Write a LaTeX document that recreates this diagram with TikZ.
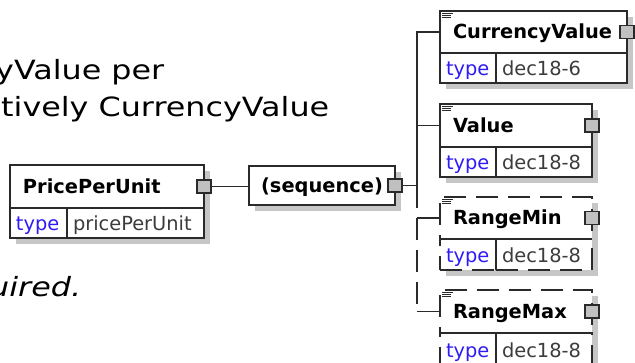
\documentclass[tikz,border=0pt]{standalone}
\usepackage{fontspec}
\setmainfont{DejaVu Sans}
\newfontfamily\notefont[FakeStretch=1.2]{DejaVu Sans}
\usetikzlibrary{positioning,shadows}
\definecolor{edge}{HTML}{2A2A2A}
\definecolor{typeblue}{HTML}{2F1BF5}
\definecolor{valgray}{HTML}{3C3C3C}
\definecolor{shade}{HTML}{C6C6C6}
\definecolor{plusfill}{HTML}{C0C0C0}

% documentation mark in the top left corner of an element
\newcommand{\docmark}[1]{%
  \draw[edge, line width=0.8pt]
    ([shift={(2pt,-2.3pt)}]#1.north west) -- ++(11pt,0)
    ([shift={(2pt,-4.3pt)}]#1.north west) -- ++(9pt,0)
    ([shift={(2pt,-6.3pt)}]#1.north west) -- ++(9pt,0);}

\begin{document}
\begin{tikzpicture}[x=1pt, y=-1pt,
    boxshadow/.style={drop shadow={shadow xshift=6pt, shadow yshift=-6pt, fill=shade, opacity=1}},
    hdr/.style={draw=edge, fill=white, line width=1.4pt, anchor=north west, outer sep=0pt,
      inner xsep=13pt, inner ysep=0pt, align=left, font=\fontsize{19.4}{23}\selectfont\bfseries,
      text height=14pt, text depth=0pt, minimum height=42pt, boxshadow},
    grp/.style={hdr, align=center, inner xsep=0pt, minimum width=146pt, minimum height=39pt},
    cell/.style={draw=edge, fill=white, line width=1.4pt, anchor=north west, outer sep=0pt,
      inner xsep=6pt, inner ysep=0pt, align=left, font=\fontsize{19.4}{23}\selectfont,
      text=valgray, text height=16pt, text depth=0pt, minimum height=30pt, boxshadow},
    typecell/.style={cell, text=typeblue, text width=44pt},
    plus/.style={draw=edge, fill=plusfill, line width=1.2pt, minimum width=14pt,
      minimum height=13pt, inner sep=0pt},
    conn/.style={draw=edge, line width=1.4pt},
    opt/.style={dash pattern=on 22pt off 10pt},
    note/.style={inner sep=0pt, anchor=base west, font=\notefont\fontsize{26.5}{32}\selectfont}
]
\clip (0,0) rectangle (635,363);

% text beside the diagram
\node[note] (noteA) at (-5,80) {yValue per};
\node[note] (noteB) at (1,117) {tively CurrencyValue};
\node[note] (noteC) at (-11,297) {\itshape uired.};

% complex type
\node[hdr, text width=168pt, minimum height=43pt] (ppuH) at (10,165) {PricePerUnit};
\node[typecell, text width=45pt] (ppuT) at (ppuH.south west) {type};
\node[cell, text width=125pt] (ppuV) at (ppuT.north east) {pricePerUnit};
\node[plus] (ppuSq) at (ppuH.east) {};

\node[grp] (seq) at (249,166) {(sequence)};
\node[plus] (seqSq) at (seq.east) {};

% children
\node[hdr, text width=161pt] (cvH) at (440,11) {CurrencyValue};
\node[typecell] (cvT) at (cvH.south west) {type};
\node[cell, text width=119pt] (cvV) at (cvT.north east) {dec18-6};
\node[plus] (cvSq) at (cvH.east) {};
\docmark{cvH}

\node[hdr, text width=126pt, minimum height=43pt] (valH) at (440,104) {Value};
\node[typecell] (valT) at (valH.south west) {type};
\node[cell, text width=84pt] (valV) at (valT.north east) {dec18-8};
\node[plus] (valSq) at (valH.east) {};
\docmark{valH}

\node[hdr, opt, text width=126pt] (minH) at (440,197) {RangeMin};
\node[typecell, opt, minimum height=31pt] (minT) at (minH.south west) {type};
\node[cell, opt, text width=84pt, minimum height=31pt] (minV) at (minT.north east) {dec18-8};
\draw[conn] (minH.south west) -- (minH.south east);
\draw[conn] (minT.north east) -- (minT.south east);
\node[plus] (minSq) at (minH.east) {};
\docmark{minH}

\node[hdr, opt, text width=126pt, minimum height=43pt] (maxH) at (440,290) {RangeMax};
\node[typecell, opt, minimum height=34pt] (maxT) at (maxH.south west) {type};
\node[cell, opt, text width=84pt, minimum height=34pt] (maxV) at (maxT.north east) {dec18-8};
\draw[conn] (maxH.south west) -- (maxH.south east);
\draw[conn] (maxT.north east) -- (maxT.south east);
\node[plus] (maxSq) at (maxH.east) {};
\docmark{maxH}

% connectors
\coordinate (busEnd) at (417,208);
\draw[conn] (ppuSq.east) -- (ppuSq.east -| seq.west);
\draw[conn] (seqSq.east) -- (seqSq.east -| busEnd);
\draw[conn] (cvH.west) -- (cvH.west -| busEnd) -- (busEnd);
\draw[conn] (valH.west) -- (valH.west -| busEnd);
\draw[conn] (minH.west) -- (minH.west -| busEnd);
\draw[conn, opt] (minH.west -| busEnd) -- (maxH.west -| busEnd);
\draw[conn] (maxH.west) -- (maxH.west -| busEnd);

\end{tikzpicture}
\end{document}
